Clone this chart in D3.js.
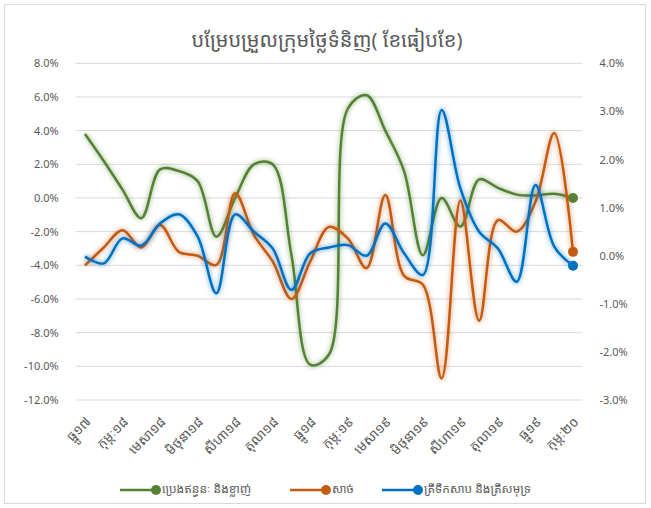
<!DOCTYPE html>
<html>
<head>
<meta charset="utf-8">
<script src="https://cdn.jsdelivr.net/npm/d3@7"></script>
<style>
  body { margin: 0; background: #fff; }
  svg text { font-family: "Noto Sans Khmer", "Khmer OS", "Noto Sans", "DejaVu Sans", sans-serif; }
</style>
</head>
<body>
<svg id="viz" width="651" height="508"></svg>
<script>
// months shown on the x axis (every second month gets a label)
let months = ["ធ្នូ១៧","មករា១៨","កុម្ភៈ១៨","មីនា១៨","មេសា១៨","ឧសភា១៨","មិថុនា១៨","កក្កដា១៨","សីហា១៨","កញ្ញា១៨","តុលា១៨","វិច្ឆិកា១៨",
              "ធ្នូ១៨","មករា១៩","កុម្ភៈ១៩","មីនា១៩","មេសា១៩","ឧសភា១៩","មិថុនា១៩","កក្កដា១៩","សីហា១៩","កញ្ញា១៩","តុលា១៩","វិច្ឆិកា១៩",
              "ធ្នូ១៩","មករា២០","កុម្ភៈ២០"];

// fuel & fat (left axis, %)
let fuel = [3.8, 2.2, 0.5, -1.2, 1.7, 1.6, 1.0, -2.3, 0.0, 2.0, 2.0, -3.4, -9.9, -9.3,
            5.3, 6.1, 4.0, 1.6, -3.4, 0.0, -1.7, 1.1, 0.6, 0.2, 0.15, 0.25, 0.0];
// meat (right axis, %)
let meat = [-0.2, 0.17, 0.53, 0.17, 0.64, 0.08, 0.0, -0.19, 1.3, 0.43, -0.12, -0.9, -0.12, 0.6,
            0.36, -0.26, 1.26, -0.42, -0.6, -2.55, 1.15, -1.35, 0.74, 0.5, 1.12, 2.55, 0.08];
// fish (right axis, %)
let fish = [-0.02, -0.16, 0.36, 0.21, 0.67, 0.86, 0.4, -0.78, 0.86, 0.5, 0.15, -0.71, 0.05, 0.17,
            0.22, 0.0, 0.67, 0.05, -0.4, 3.03, 1.4, 0.5, 0.15, -0.54, 1.47, 0.19, -0.21];

let leftTicks = [8, 6, 4, 2, 0, -2, -4, -6, -8, -10, -12];
let rightTicks = [4, 3, 2, 1, 0, -1, -2, -3];

let series = [
	{name: "ប្រេងឥន្ធនៈ និងខ្លាញ់", values: fuel, color: "#548235", axis: "left"},
	{name: "សាច់", values: meat, color: "#c55a11", axis: "right"},
	{name: "ត្រីទឹកសាប និងត្រីសមុទ្រ", values: fish, color: "#0070c0", axis: "right"}
];

let svg = d3.select("#viz");
let plot = {left: 75.6, right: 582.4, top: 63.3, bottom: 400};

svg.append("rect")
	.attr("x", 4.5).attr("y", 4.5)
	.attr("width", 641).attr("height", 499)
	.attr("fill", "#fff")
	.attr("stroke", "#d9d9d9");

let defs = svg.append("defs");
let glow = defs.append("filter").attr("id", "glow")
	.attr("x", "-5%").attr("y", "-5%").attr("width", "110%").attr("height", "110%");
glow.append("feGaussianBlur").attr("in", "SourceGraphic").attr("stdDeviation", 2.2);

let x = d3.scalePoint()
	.domain(months)
	.range([plot.left, plot.right])
	.padding(0.5);

let yL = d3.scaleLinear().domain([-12, 8]).range([plot.bottom, plot.top]);
let yR = d3.scaleLinear().domain([-3, 4]).range([plot.bottom, plot.top]);

// gridlines
svg.append("g")
	.selectAll("line")
	.data(leftTicks)
	.enter()
	.append("line")
	.attr("x1", plot.left).attr("x2", plot.right)
	.attr("y1", d => yL(d)).attr("y2", d => yL(d))
	.attr("stroke", "#d9d9d9")
	.attr("stroke-width", 1);

let fmt = d => d.toFixed(1) + "%";

svg.append("g")
	.attr("transform", `translate(${plot.left - 14},0)`)
	.call(d3.axisLeft(yL).tickValues(leftTicks).tickFormat(fmt).tickSize(0))
	.call(g => g.select(".domain").remove())
	.selectAll("text")
	.attr("fill", "#595959")
	.attr("font-size", 11);

svg.append("g")
	.attr("transform", `translate(${plot.right + 14},0)`)
	.call(d3.axisRight(yR).tickValues(rightTicks).tickFormat(fmt).tickSize(0))
	.call(g => g.select(".domain").remove())
	.selectAll("text")
	.attr("fill", "#595959")
	.attr("font-size", 11);

// x labels, every second month
svg.append("g")
	.selectAll("text")
	.data(months.filter((m, i) => i % 2 == 0))
	.enter()
	.append("text")
	.attr("transform", d => `translate(${x(d) + 4},${plot.bottom + 20}) rotate(-45)`)
	.attr("text-anchor", "end")
	.attr("dominant-baseline", "middle")
	.attr("fill", "#595959")
	.attr("font-size", 13.5)
	.text(d => d);

let line = (s) => d3.line()
	.x((d, i) => x(months[i]))
	.y(d => (s.axis == "left" ? yL(d) : yR(d)))
	.curve(d3.curveCatmullRom.alpha(0.5));

series.forEach(s => {
	let g = svg.append("g");
	g.append("path")
		.attr("d", line(s)(s.values))
		.attr("fill", "none")
		.attr("stroke", s.color)
		.attr("stroke-width", 5)
		.attr("stroke-opacity", 0.35)
		.attr("filter", "url(#glow)");
	g.append("path")
		.attr("d", line(s)(s.values))
		.attr("fill", "none")
		.attr("stroke", s.color)
		.attr("stroke-width", 2.5);
	let last = s.values.length - 1;
	g.append("circle")
		.attr("cx", x(months[last]))
		.attr("cy", s.axis == "left" ? yL(s.values[last]) : yR(s.values[last]))
		.attr("r", 5)
		.attr("fill", s.color);
});

// title
svg.append("text")
	.attr("x", 327).attr("y", 47)
	.attr("text-anchor", "middle")
	.attr("fill", "#595959")
	.attr("font-size", 20)
	.text("បម្រែបម្រួលក្រុមថ្លៃទំនិញ( ខែធៀបខែ)");

// legend
let legendX = [120, 290, 382];
let legend = svg.append("g")
	.selectAll("g")
	.data(series)
	.enter()
	.append("g")
	.attr("transform", (d, i) => `translate(${legendX[i]},490)`);
legend.append("line")
	.attr("x1", 0).attr("x2", 36)
	.attr("stroke", d => d.color)
	.attr("stroke-width", 2.5);
legend.append("circle")
	.attr("cx", 36).attr("r", 5)
	.attr("fill", d => d.color);
legend.append("text")
	.attr("x", 42).attr("y", 0)
	.attr("dominant-baseline", "middle")
	.attr("fill", "#595959")
	.attr("font-size", 12)
	.text(d => d.name);
</script>
</body>
</html>
